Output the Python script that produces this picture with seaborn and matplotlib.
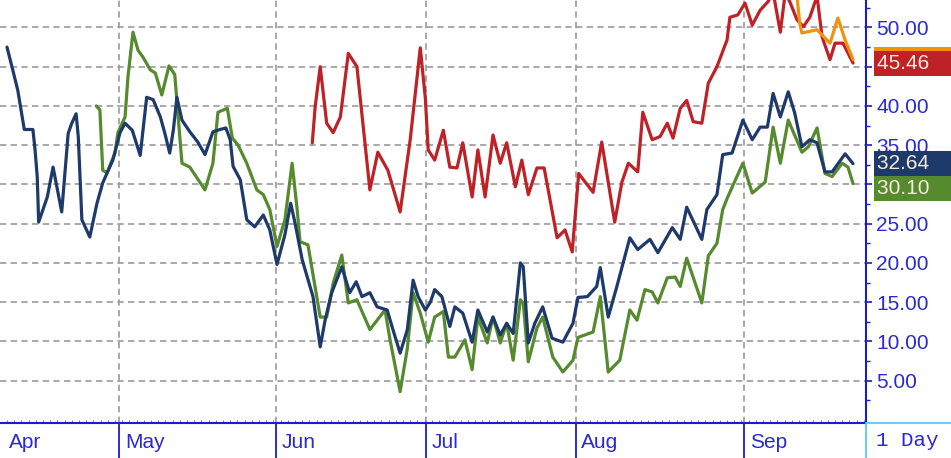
#!/usr/bin/env python3
"""
Daily chart: four series on a right-hand price axis, Apr - Sep.
x is the trading-day index counted from the first bar in early April.
"""

import pandas as pd
import matplotlib
matplotlib.use('Agg')
import matplotlib.pyplot as plt
from matplotlib.ticker import FixedLocator, MultipleLocator, FormatStrFormatter
from matplotlib.lines import Line2D
import seaborn as sns

# Series data
NAVY_DAY = [0.0, 0.8, 1.5, 2.4, 3.6, 3.9, 4.2, 4.4, 5.6, 6.4,
            7.6, 8.5, 9.0, 9.6, 9.9, 10.4, 11.5, 12.5, 13.3, 14.7,
            15.7, 16.4, 17.4, 18.5, 19.4, 20.3, 21.3, 21.9, 22.6, 23.1,
            23.6, 24.3, 25.4, 26.5, 27.5, 28.6, 29.6, 30.4, 31.0, 31.4,
            32.4, 33.3, 34.4, 35.6, 36.5, 37.5, 38.6, 39.4, 40.0, 41.0,
            42.5, 43.5, 44.2, 45.1, 46.5, 47.6, 48.5, 49.3, 50.4, 51.4,
            52.8, 53.6, 54.6, 55.6, 56.4, 57.1, 58.1, 58.8, 59.4, 60.4,
            61.5, 62.2, 63.3, 64.6, 65.4, 66.7, 67.5, 68.5, 69.4, 70.3,
            71.3, 71.7, 72.4, 73.3, 74.4, 75.7, 77.2, 78.6, 79.3, 80.6,
            81.9, 82.4, 83.5, 84.7, 86.5, 87.6, 89.3, 90.4, 92.4, 93.5,
            94.4, 96.5, 97.2, 98.6, 99.4, 100.7, 102.2, 103.5, 104.6, 105.6,
            106.4, 107.4, 108.5, 109.4, 110.4, 111.5, 112.5, 113.6, 114.6, 116.4,
            117.5]
NAVY_VAL = [47.5, 44.6, 42.0, 37.0, 37.0, 34.4, 31.0, 25.2, 28.4, 32.2,
            26.5, 36.5, 37.8, 39.0, 36.1, 25.5, 23.3, 27.6, 30.2, 33.1,
            36.6, 37.8, 36.9, 33.7, 41.1, 40.8, 38.6, 36.6, 34.0, 36.9,
            41.1, 38.2, 36.7, 35.4, 33.8, 36.7, 37.0, 37.2, 35.7, 32.3,
            30.6, 25.5, 24.6, 26.1, 24.2, 19.8, 23.6, 27.6, 25.1, 20.4,
            15.7, 9.3, 12.8, 16.2, 19.5, 16.2, 17.6, 15.7, 16.2, 14.4,
            14.0, 11.5, 8.5, 11.5, 17.8, 15.7, 14.0, 15.0, 16.6, 15.7,
            11.9, 14.4, 13.6, 9.9, 14.0, 11.2, 13.1, 10.8, 12.3, 11.0,
            20.0, 19.5, 9.8, 12.3, 14.4, 10.4, 9.9, 12.3, 15.6, 15.7,
            17.0, 19.4, 13.1, 17.0, 23.2, 21.7, 23.0, 21.3, 24.5, 23.0,
            27.1, 23.0, 26.8, 28.7, 33.8, 34.0, 38.2, 35.7, 37.3, 37.3,
            41.6, 38.6, 41.8, 39.1, 34.8, 35.7, 35.3, 31.6, 31.6, 33.9,
            32.64]

GREEN_DAY = [12.4, 12.9, 13.3, 13.9, 15.0, 15.4, 16.4, 16.8, 17.5, 18.2,
             18.9, 19.9, 20.6, 21.5, 22.5, 23.3, 24.3, 25.4, 27.5, 28.6,
             29.3, 30.6, 31.3, 32.1, 33.3, 34.7, 35.6, 36.5, 37.5, 38.6,
             39.6, 40.3, 40.7, 41.8, 43.5, 44.4, 45.3, 46.5, 47.4, 48.6,
             50.4, 52.5, 53.2, 54.6, 55.6, 56.4, 57.4, 58.5, 59.4, 60.6,
             61.3, 62.2, 63.6, 64.6, 65.4, 66.7, 67.5, 68.5, 69.4, 70.3,
             71.3, 71.7, 72.4, 73.6, 74.4, 75.8, 77.2, 78.6, 79.3, 81.4,
             82.4, 83.5, 85.1, 86.5, 87.5, 88.6, 89.6, 90.4, 91.7, 92.8,
             93.5, 94.4, 96.5, 97.4, 98.6, 99.4, 100.1, 102.2, 103.5, 105.3,
             106.4, 107.4, 108.5, 110.4, 111.3, 112.5, 113.6, 114.6, 116.0, 116.8,
             117.5]
GREEN_VAL = [40.0, 39.5, 31.8, 31.5, 34.0, 36.6, 38.6, 43.7, 49.4, 47.1,
             46.2, 44.6, 44.2, 41.4, 45.1, 44.0, 32.7, 32.2, 29.3, 32.7,
             39.2, 39.7, 35.9, 35.0, 32.7, 29.3, 28.7, 26.8, 22.1, 25.5,
             32.7, 26.8, 22.7, 22.3, 13.1, 13.1, 17.4, 21.0, 14.9, 15.3,
             11.5, 14.0, 10.2, 3.6, 9.1, 16.2, 13.6, 9.9, 13.1, 13.8,
             8.0, 8.0, 10.2, 6.4, 13.1, 9.8, 13.1, 9.8, 12.3, 7.6,
             15.3, 14.9, 7.4, 11.7, 13.1, 8.0, 6.1, 7.6, 10.5, 11.2,
             15.7, 6.1, 7.6, 14.0, 12.7, 16.6, 16.3, 14.9, 18.1, 18.2,
             17.0, 20.6, 14.9, 20.9, 22.5, 26.8, 28.4, 32.7, 28.9, 30.3,
             37.3, 32.7, 38.2, 34.1, 34.8, 37.2, 31.4, 31.0, 32.7, 32.2,
             30.10]

RED_DAY = [42.4, 42.8, 43.5, 44.4, 45.3, 46.3, 47.4, 48.6, 50.4, 51.5,
           52.9, 54.6, 56.0, 57.4, 58.1, 58.5, 59.4, 60.6, 61.5, 62.5,
           63.3, 64.6, 65.4, 66.4, 67.5, 68.5, 69.4, 70.6, 71.5, 72.4,
           73.6, 74.6, 76.4, 77.5, 78.5, 79.4, 80.3, 81.4, 82.6, 84.4,
           85.4, 86.3, 87.6, 88.3, 89.6, 90.7, 91.7, 92.5, 93.5, 94.4,
           95.3, 96.5, 97.4, 98.6, 100.0, 100.4, 101.5, 102.5, 103.5, 104.6,
           105.7, 106.4, 107.4, 108.1, 108.8, 109.7, 110.6, 111.5, 112.5, 113.2,
           114.3, 115.0, 116.1, 117.5]
RED_VAL = [35.3, 39.9, 45.0, 37.8, 36.6, 38.6, 46.7, 45.0, 29.3, 34.1,
           31.8, 26.5, 35.7, 47.4, 41.0, 34.4, 33.1, 36.9, 32.2, 32.1,
           35.3, 28.4, 34.4, 28.4, 36.3, 32.7, 35.3, 29.7, 33.1, 28.7,
           32.1, 32.1, 23.2, 24.2, 21.4, 31.4, 30.3, 29.0, 35.4, 25.2,
           30.3, 32.7, 31.6, 39.2, 35.7, 36.1, 37.8, 35.9, 39.7, 40.7,
           38.0, 37.8, 42.9, 45.0, 48.4, 51.3, 51.6, 53.1, 50.3, 52.2,
           53.3, 54.5, 49.4, 54.5, 53.1, 51.0, 50.1, 51.3, 54.0, 48.8,
           45.9, 48.0, 48.0, 45.46]

ORANGE_DAY = [109.6, 110.1, 110.4, 112.5, 114.3, 115.4, 116.4, 117.5]
ORANGE_VAL = [55.0, 50.5, 49.3, 49.7, 48.0, 51.2, 48.4, 45.9]

MONTHS = ['Apr', 'May', 'Jun', 'Jul', 'Aug', 'Sep']
MONTH_DAY = [-0.5, 15.6, 37.4, 58.2, 79.0, 102.4]
Y_TICKS = [5, 10, 15, 20, 25, 30, 35, 40, 45, 50]

# Styling
COLORS = {'green': '#568a2e', 'navy': '#1e3a6a', 'red': '#be2126', 'orange': '#f0920c'}
AXIS_BLUE = '#1c1cc8'
TEXT_BLUE = '#2a2ad0'
GRID_GREY = '#9a9a9a'
LABEL_TXT = '#f3ecdc'
CYAN = '#5bc8f0'

W, H = 951, 458
PLOT_RIGHT, PLOT_BOTTOM = 866, 423

sns.set_style('white')
plt.rcParams['font.family'] = ['Liberation Sans', 'DejaVu Sans']

frames = []
for name, d, v in [('green', GREEN_DAY, GREEN_VAL), ('navy', NAVY_DAY, NAVY_VAL),
                   ('red', RED_DAY, RED_VAL), ('orange', ORANGE_DAY, ORANGE_VAL)]:
    frames.append(pd.DataFrame({'day': d, 'value': v, 'series': name}))
df = pd.concat(frames, ignore_index=True)

fig = plt.figure(figsize=(W / 100, H / 100), dpi=100)
ax = fig.add_axes([0, (H - PLOT_BOTTOM) / H, PLOT_RIGHT / W, PLOT_BOTTOM / H])

sns.lineplot(data=df, x='day', y='value', hue='series', palette=COLORS,
             hue_order=['green', 'navy', 'red', 'orange'],
             estimator=None, sort=False, linewidth=2.3, legend=False, ax=ax)

ax.set_xlim(-0.97, 119.3)
ax.set_ylim(-0.4, 53.5)
ax.set_xlabel('')
ax.set_ylabel('')

# spines
for side in ['top', 'left']:
    ax.spines[side].set_visible(False)
for side in ['right', 'bottom']:
    ax.spines[side].set_color(AXIS_BLUE)
    ax.spines[side].set_linewidth(1.5)

# y axis on the right
ax.yaxis.tick_right()
ax.yaxis.set_major_locator(FixedLocator(Y_TICKS))
ax.yaxis.set_minor_locator(FixedLocator([t - 2.5 for t in Y_TICKS] + [52.5]))
ax.yaxis.set_major_formatter(FormatStrFormatter('%.2f'))
ax.tick_params(axis='y', which='major', direction='out', length=4.5, width=1.2,
               color=AXIS_BLUE, labelcolor=TEXT_BLUE, labelsize=15, pad=3,
               right=True, left=False, labelright=True, labelleft=False)
ax.tick_params(axis='y', which='minor', direction='out', length=3, width=1.0,
               color=AXIS_BLUE, right=True, left=False)

# x axis: long month dividers below, small daily ticks inside
ax.xaxis.set_major_locator(FixedLocator(MONTH_DAY[1:]))
ax.xaxis.set_minor_locator(MultipleLocator(1))
ax.set_xticklabels([''] * len(MONTH_DAY[1:]))
ax.tick_params(axis='x', which='major', direction='out', length=26, width=1.3,
               color=AXIS_BLUE, bottom=True)
ax.tick_params(axis='x', which='minor', direction='in', length=2.5, width=0.8,
               color='#7777cc', bottom=True)

for m, d in zip(MONTHS, MONTH_DAY):
    ax.annotate(m, xy=(d, 0), xycoords=('data', 'axes fraction'),
                xytext=(4, -7), textcoords='offset points',
                ha='left', va='top', fontsize=15, color=TEXT_BLUE,
                annotation_clip=False)

ax.grid(True, which='major', color=GRID_GREY, linestyle=(0, (3.8, 2.6)), linewidth=1.2)
ax.set_axisbelow(True)

# last-value tags on the right axis (orange sits mostly hidden under red)
last = {name: vals[-1] for name, vals in [('green', GREEN_VAL), ('navy', NAVY_VAL),
                                           ('red', RED_VAL), ('orange', ORANGE_VAL)]}
tag_h = 3.15  # one tag height in data units
tag_pos = {'orange': last['orange'], 'red': last['red'], 'navy': last['navy'],
           'green': min(last['green'], last['navy'] - tag_h)}
for name in ['orange', 'red', 'navy', 'green']:
    ax.annotate(f"{last[name]:.2f}    ", xy=(1, tag_pos[name]),
                xycoords=('axes fraction', 'data'),
                xytext=(8, 0), textcoords='offset points',
                ha='left', va='center', fontsize=15, color=LABEL_TXT,
                bbox=dict(boxstyle='square,pad=0.14', fc=COLORS[name], ec='none'),
                annotation_clip=False)

# "1 Day" corner box
y0 = (H - PLOT_BOTTOM) / H
x0 = PLOT_RIGHT / W
fig.add_artist(Line2D([x0, 1], [y0, y0], transform=fig.transFigure, color=CYAN, lw=1.3))
fig.add_artist(Line2D([x0, x0], [0, y0], transform=fig.transFigure, color=CYAN, lw=1.3))
fig.text(x0 + 10 / W, y0 / 2, '1 Day', family=['Liberation Mono', 'DejaVu Sans Mono'],
         fontsize=15, color=TEXT_BLUE, ha='left', va='center')

fig.savefig('out.png', dpi=100)
